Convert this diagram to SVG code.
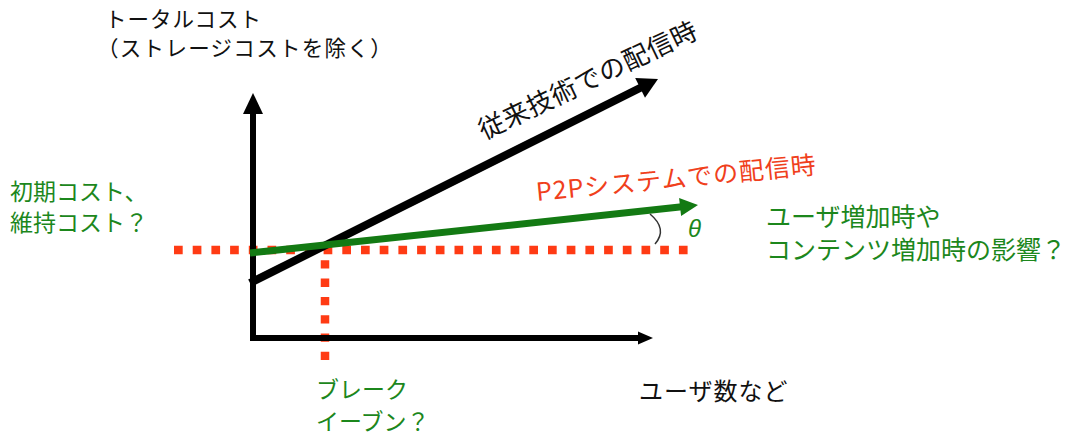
<svg xmlns="http://www.w3.org/2000/svg" width="1074" height="436" viewBox="0 0 1074 436">
  <style>
    .t { font-family: "Noto Sans CJK JP", "Noto Sans", sans-serif; font-weight: 400; }
    .blk { fill: #111111; }
    .grn { fill: #1c871c; }
    .red { fill: #f0401c; }
    .axis { stroke: #000; stroke-width: 6; fill: none; }
    .dot { stroke: #ff3b14; stroke-width: 8.5; fill: none; }
  </style>
  <rect width="1074" height="436" fill="#ffffff"/>

  <g id="guides">
    <line class="dot" x1="174" y1="250" x2="690" y2="250" stroke-dasharray="8.7 10"/>
    <line class="dot" x1="325" y1="242" x2="325" y2="360" stroke-dasharray="8.3 10"/>
  </g>

  <g id="connectors">
    <g id="y-axis">
      <line class="axis" x1="253" y1="341" x2="253" y2="110"/>
      <polygon points="253,93 243,114 263,114" fill="#000"/>
    </g>
    <g id="x-axis">
      <line class="axis" x1="250" y1="338" x2="640" y2="338"/>
      <polygon points="653,338 638,331.5 638,344.5" fill="#000"/>
    </g>
    <g id="conventional-line">
      <line x1="250" y1="283" x2="642" y2="87" stroke="#000" stroke-width="8"/>
      <polygon points="658,79 645,97.7 635.2,78.1" fill="#000"/>
    </g>
    <g id="p2p-line">
      <line x1="250" y1="253" x2="682" y2="206.8" stroke="#137a13" stroke-width="7"/>
      <polygon points="698,205 681.1,215.9 679.1,198.1" fill="#137a13"/>
    </g>
    <path id="theta-arc" d="M650,214 Q668,229 655,244" fill="none" stroke="#333" stroke-width="1.5"/>
  </g>

  <g id="y-label">
    <text class="t blk" x="105" y="27" font-size="21.5" letter-spacing="1">トータルコスト</text>
    <text class="t blk" x="97" y="56" font-size="21.5" letter-spacing="1.3">（ストレージコストを除く）</text>
  </g>
  <g id="conventional-label">
    <text class="t blk" x="484" y="140" font-size="26" letter-spacing="0.6" transform="rotate(-25.5 484 140)">従来技術での配信時</text>
  </g>
  <g id="p2p-label">
    <text class="t red" x="537" y="201" font-size="25" letter-spacing="1" transform="rotate(-5.6 537 201)">P2Pシステムでの配信時</text>
  </g>
  <g id="initial-cost-label">
    <text class="t grn" x="10" y="200" font-size="23">初期コスト、</text>
    <text class="t grn" x="10" y="231" font-size="23">維持コスト？</text>
  </g>
  <g id="impact-label">
    <text class="t grn" x="766" y="226" font-size="25">ユーザ増加時や</text>
    <text class="t grn" x="766" y="259" font-size="25">コンテンツ増加時の影響？</text>
  </g>
  <g id="theta-label">
    <text x="688" y="237" font-size="24" font-style="italic" font-family="Liberation Sans, sans-serif" class="grn">θ</text>
  </g>
  <g id="x-label">
    <text class="t blk" x="639" y="400" font-size="24" letter-spacing="1">ユーザ数など</text>
  </g>
  <g id="break-even-label">
    <text class="t grn" x="316" y="398" font-size="23">ブレーク</text>
    <text class="t grn" x="316" y="430" font-size="23">イーブン？</text>
  </g>
</svg>
